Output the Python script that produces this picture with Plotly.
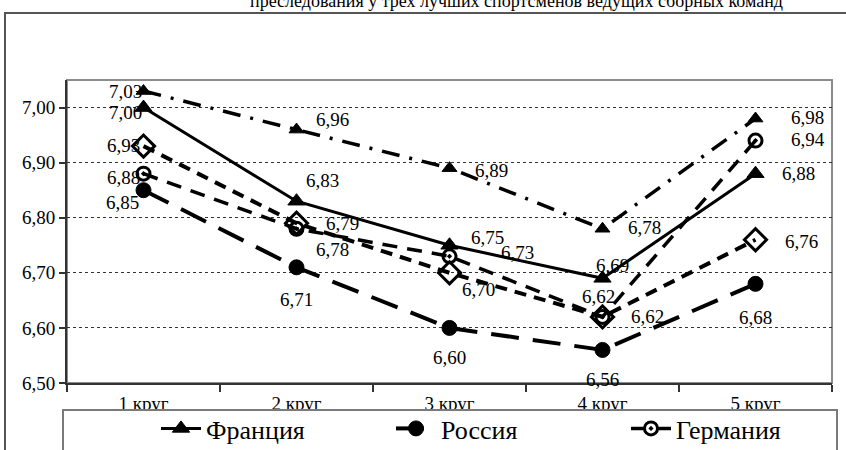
import plotly.graph_objects as go

# Laps of the pursuit race
laps = ["1 круг", "2 круг", "3 круг", "4 круг", "5 круг"]

# Average lap values for the top three athletes of each team
france = [7.00, 6.83, 6.75, 6.69, 6.88]
russia = [6.85, 6.71, 6.60, 6.56, 6.68]
germany = [6.88, 6.78, 6.73, 6.62, 6.94]
norway = [7.03, 6.96, 6.89, 6.78, 6.98]
austria = [6.93, 6.79, 6.70, 6.62, 6.76]

y_ticks = [6.50, 6.60, 6.70, 6.80, 6.90, 7.00]

FONT = "Liberation Serif"

# (name, values, dash, width, marker symbol, marker size, label offsets in px (dx, dy down))
series = [
    ("Франция", france, "solid", 3, "triangle-up", 15,
     [(-18, 5), (26, -21), (38, -8), (10, -13), (43, 0)]),
    ("Россия", russia, "28px,14px", 4, "circle", 15,
     [(-21, 12), (0, 32), (0, 30), (0, 30), (0, 34)]),
    ("Германия", germany, "15px,10px", 3.5, "circle-open-dot", 13,
     [(-20, 4), (36, 21), (68, -4), (-4, -20), (52, -1)]),
    ("Норвегия", norway, "18px,10px,3px,10px", 3.5, "triangle-up", 13,
     [(-18, 0), (36, -10), (42, 2), (42, -1), (52, -1)]),
    ("Австрия", austria, "12px,8px", 4, "diamond-open", 17,
     [(-20, -1), (46, 0), (29, 17), (45, 0), (46, 2)]),
]

fig = go.Figure()
annotations = []
for name, vals, dash, width, sym, size, offs in series:
    open_marker = "open" in sym
    fig.add_trace(go.Scatter(
        x=laps, y=vals, name=name, mode="lines+markers",
        line=dict(color="black", width=width, dash=dash),
        marker=dict(symbol=sym, size=size, color="black",
                    line=dict(color="black", width=3 if open_marker else 1)),
    ))
    for lap, v, (dx, dy) in zip(laps, vals, offs):
        annotations.append(dict(
            x=lap, y=v, xref="x", yref="y", text=f"{v:.2f}".replace(".", ","),
            showarrow=False, xshift=dx, yshift=-dy,
            font=dict(family=FONT, size=19, color="black"),
        ))

# Plot-area geometry in pixels, used to place the frame and legend box
W, H = 846, 450
L, R, T, B = 67, 14, 80, 67
pw, ph = W - L - R, H - T - B


def px_x(px):
    return (px - L) / pw


def px_y(py):
    return (H - B - py) / ph


annotations.append(dict(
    x=px_x(516), y=px_y(1), xref="paper", yref="paper",
    text="преследования у трех лучших спортсменов ведущих сборных команд",
    showarrow=False, xanchor="center", yanchor="middle",
    font=dict(family=FONT, size=18, color="black"),
))

shapes = [
    # outer chart frame
    dict(type="rect", xref="paper", yref="paper",
         x0=px_x(5), x1=px_x(900), y0=px_y(13), y1=px_y(520),
         line=dict(color="#555555", width=2), fillcolor="rgba(0,0,0,0)", layer="below"),
    # plot-area frame
    dict(type="rect", xref="paper", yref="paper", x0=0, x1=1, y0=0, y1=1,
         line=dict(color="#8c8c8c", width=2), fillcolor="rgba(0,0,0,0)", layer="below"),
    # legend box
    dict(type="rect", xref="paper", yref="paper",
         x0=px_x(63), x1=px_x(837), y0=px_y(410), y1=px_y(520),
         line=dict(color="#7a7a7a", width=2), fillcolor="white", layer="above"),
]

fig.update_layout(
    width=W, height=H,
    margin=dict(l=L, r=R, t=T, b=B, autoexpand=False),
    paper_bgcolor="white", plot_bgcolor="white",
    separators=", ",
    font=dict(family=FONT, color="black"),
    showlegend=True,
    legend=dict(orientation="h", x=px_x(156), y=px_y(405), xanchor="left", yanchor="top",
                entrywidth=180, entrywidthmode="pixels",
                font=dict(family=FONT, size=26, color="black"),
                bgcolor="rgba(0,0,0,0)", borderwidth=0, itemwidth=40,
                traceorder="normal"),
    annotations=annotations,
    shapes=shapes,
)

fig.update_xaxes(
    type="category", tickson="boundaries", ticks="outside", ticklen=7,
    tickcolor="#333333", tickwidth=1.5,
    showline=True, linecolor="#333333", linewidth=2,
    showgrid=False, tickfont=dict(family=FONT, size=19, color="black"),
    ticklabelstandoff=2,
    range=[-0.5, 4.5],
)
fig.update_yaxes(
    range=[6.5, 7.05], tickvals=y_ticks, tickformat=".2f",
    ticks="outside", ticklen=6, tickcolor="#333333", tickwidth=1.5,
    showline=True, linecolor="#333333", linewidth=2,
    showgrid=True, gridcolor="#333333", gridwidth=1, griddash="dot",
    zeroline=False, tickfont=dict(family=FONT, size=19, color="black"),
)

fig.write_html("out.html")
